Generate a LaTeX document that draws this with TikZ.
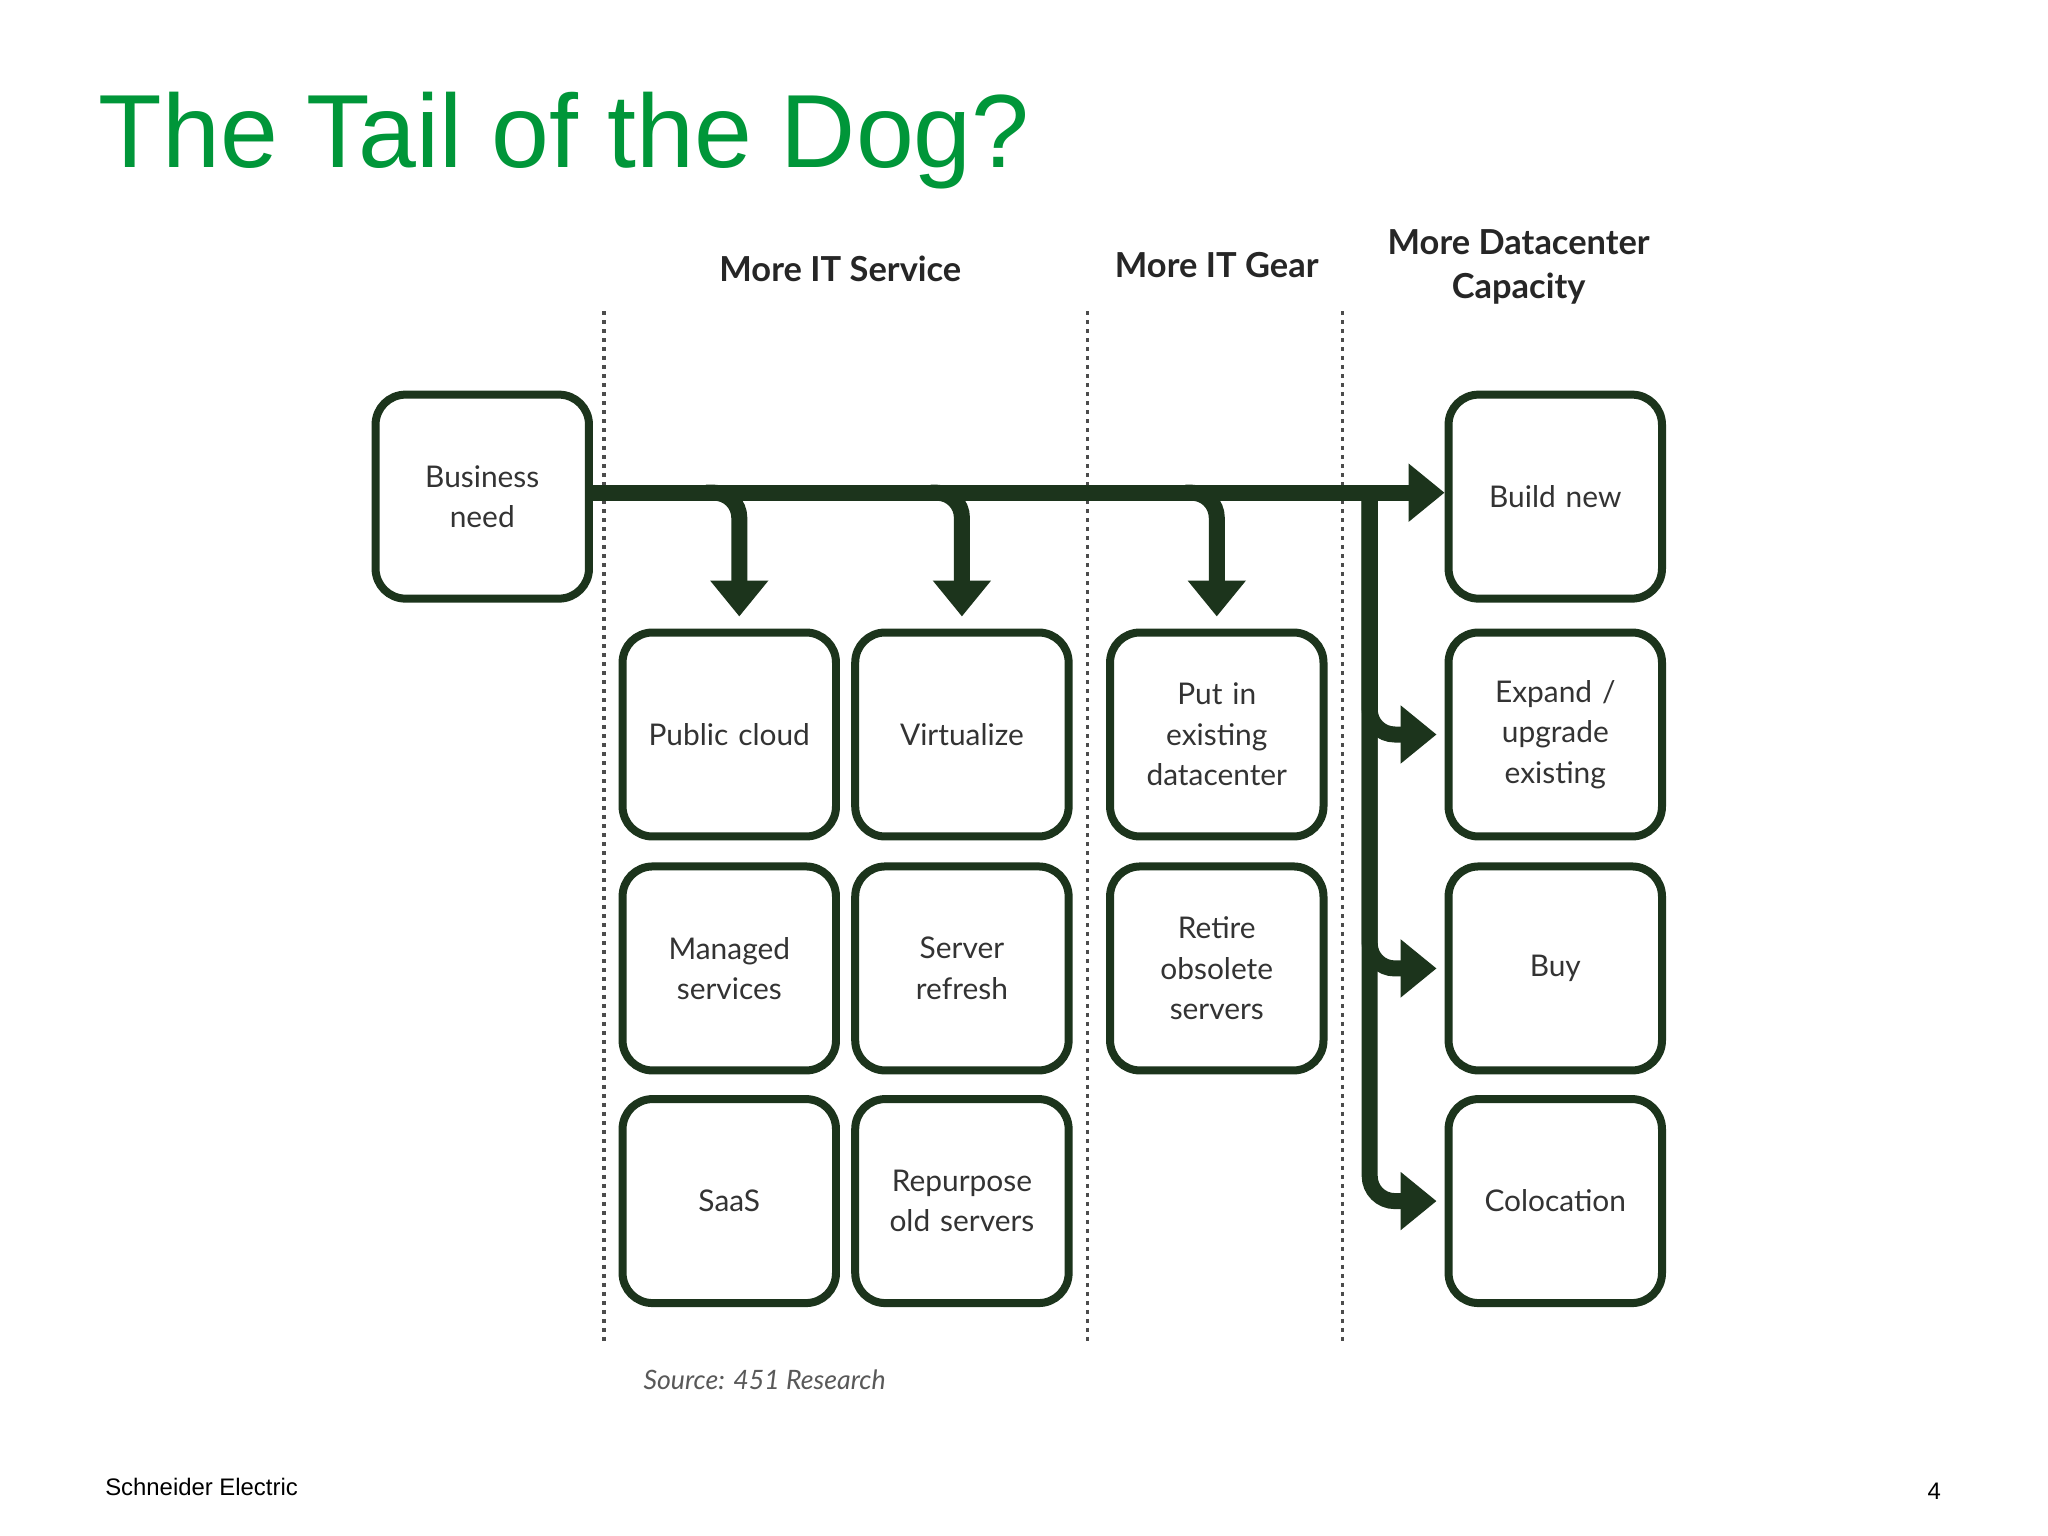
\documentclass[tikz,border=0pt]{standalone}
\usepackage{fontspec}
\setmainfont{Lato}
\newfontfamily\arialfont{Liberation Sans}
\usetikzlibrary{arrows.meta}
\definecolor{titlegreen}{RGB}{0,150,57}
\definecolor{boxgreen}{RGB}{28,52,28}
\tikzset{
  box/.style={draw=boxgreen,line width=0.8mm,rounded corners=3mm,minimum width=20.4mm,minimum height=20.4mm,
    align=center,text width=19mm,font=\fontsize{8.5}{11.5}\selectfont,text=black!80},
  head/.style={font=\bfseries\fontsize{9.8}{12.5}\selectfont,align=center,text=black!85},
  flow/.style={draw=boxgreen,line width=1.6mm,rounded corners=2.5mm},
  tip/.style={-{Triangle[length=3.6mm,width=5.6mm]}},
  sep/.style={draw=black!70,line width=0.35mm,dash pattern=on 0.4mm off 0.5mm}
}
\begin{document}
\begin{tikzpicture}[x=0.1307mm,y=-0.1307mm]
  \useasboundingbox[fill=white] (0,0) rectangle (1567,1175);
  % title and footer
  \node[anchor=base west,inner sep=0,text=titlegreen,font=\arialfont\fontsize{29.6}{33}\selectfont] (title) at (75,128) {The Tail of the Dog?};
  \node[anchor=base west,inner sep=0,font=\arialfont\fontsize{6.8}{8}\selectfont] (footer) at (80,1144) {Schneider Electric};
  \node[anchor=base,inner sep=0,font=\arialfont\fontsize{6.8}{8}\selectfont] (page) at (1480,1147) {4};
  % column heads
  \node[head] (h1) at (643,206) {More IT Service};
  \node[head] (h2) at (931,203) {More IT Gear};
  \node[head] (h3) at (1162,204) {More Datacenter\\Capacity};
  % separators
  \coordinate (s1a) at (462,238); \coordinate (s1b) at (462,1028);
  \coordinate (s2a) at (832,238); \coordinate (s2b) at (832,1028);
  \coordinate (s3a) at (1027,238); \coordinate (s3b) at (1027,1028);
  \draw[sep] (s1a) -- (s1b);
  \draw[sep] (s2a) -- (s2b);
  \draw[sep] (s3a) -- (s3b);
  % boxes
  \node[box] (need) at (369,380) {Business\\need};
  \node[box] (cloud) at (558,562) {Public cloud};
  \node[box] (managed) at (558,741) {Managed\\services};
  \node[box] (saas) at (558,919) {SaaS};
  \node[box] (virt) at (736,562) {Virtualize};
  \node[box] (refresh) at (736,741) {Server\\refresh};
  \node[box] (repurpose) at (736,919) {Repurpose\\old servers};
  \node[box] (existing) at (931,562) {Put in\\existing\\datacenter};
  \node[box] (retire) at (931,741) {Retire\\obsolete\\servers};
  \node[box] (build) at (1190,380) {Build new};
  \node[box] (expand) at (1190,562) {Expand /\\upgrade\\existing};
  \node[box] (buy) at (1190,741) {Buy};
  \node[box] (colo) at (1190,919) {Colocation};
  % flow
  \coordinate (j1) at (540,377);
  \coordinate (j2) at (712,377);
  \coordinate (j3) at (907,377);
  \coordinate (trunk) at (1048,377);
  \draw[flow,tip] (need.east |- j1) -- (build.west |- j1);
  \draw[flow,tip,shorten >=1.2mm] (j1) -| ([xshift=1mm]cloud.north);
  \draw[flow,tip,shorten >=1.2mm] (j2) -| (virt.north);
  \draw[flow,tip,shorten >=1.2mm] (j3) -| (existing.north);
  \draw[flow] (trunk) -- (trunk |- expand);
  \draw[flow,tip,shorten >=0.8mm] (trunk) |- (expand.west);
  \draw[flow,tip,shorten >=0.8mm] (trunk) |- (buy.west);
  \draw[flow,tip,shorten >=0.8mm] (trunk) |- (colo.west);
  % source
  \node[font=\itshape\fontsize{7.6}{10}\selectfont,text=black!65] (src) at (585,1056) {Source: 451 Research};
\end{tikzpicture}
\end{document}
